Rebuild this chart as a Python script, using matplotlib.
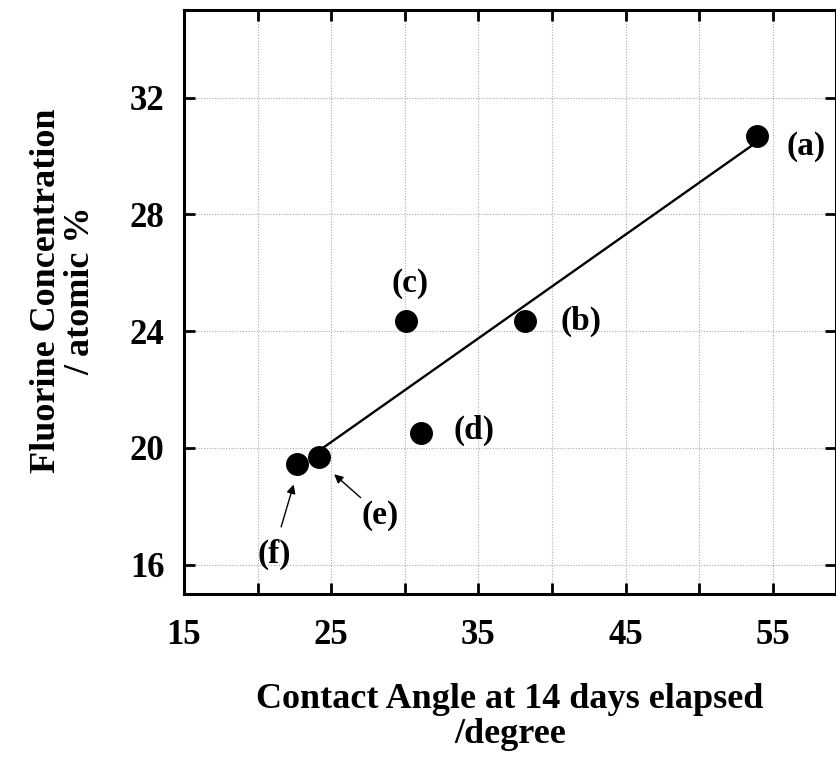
import numpy as np
import matplotlib
matplotlib.use("Agg")
import matplotlib.pyplot as plt

plt.rcParams["font.family"] = ["Liberation Serif", "DejaVu Serif"]
plt.rcParams["font.weight"] = "bold"

# samples (a)-(f): contact angle after 14 days vs. surface fluorine
sample_names = ["(a)", "(b)", "(c)", "(d)", "(e)", "(f)"]
contact_angle = [53.9, 38.2, 30.1, 31.1, 24.2, 22.7]
fluorine_conc = [30.7, 24.35, 24.35, 20.5, 19.7, 19.45]

x_ticks = [15, 20, 25, 30, 35, 40, 45, 50, 55]
x_tick_labels = ["15", "", "25", "", "35", "", "45", "", "55"]
y_ticks = [16, 20, 24, 28, 32]

fig = plt.figure(figsize=(8.37, 7.71), dpi=100)
ax = fig.add_axes([184 / 837, 1 - 594 / 771, 652 / 837, 584 / 771])

# least squares line, drawn between (e) and (a)
slope, icpt = np.polyfit(contact_angle, fluorine_conc, 1)
x_fit = np.array([24.4, 53.5])
ax.plot(x_fit, slope * x_fit + icpt, color="black", lw=1.7, zorder=3)

ax.plot(contact_angle, fluorine_conc, "o", color="black", ms=15.5, zorder=4)

# label offsets in points from each marker
offsets = {
    "(a)": (36, -8),
    "(b)": (40, 0),
    "(c)": (3, 27),
    "(d)": (38, 2),
}
for name, x, y in zip(sample_names, contact_angle, fluorine_conc):
    if name in offsets:
        ax.annotate(name, (x, y), xytext=offsets[name], textcoords="offset points",
                    ha="center", va="center", fontsize=24, fontweight="bold")

# the two crowded points get arrows
ax.text(28.3, 17.7, "(e)", ha="center", va="center", fontsize=24, fontweight="bold")
ax.text(21.1, 16.35, "(f)", ha="center", va="center", fontsize=24, fontweight="bold")
arrow = dict(arrowstyle="-|>", color="black", lw=1.0, mutation_scale=13,
             shrinkA=0, shrinkB=0)
ax.annotate("", xy=(25.2, 19.1), xytext=(27.0, 18.3), arrowprops=arrow)
ax.annotate("", xy=(22.45, 18.75), xytext=(21.6, 17.3), arrowprops=arrow)

ax.set_xlim(15, 59.3)
ax.set_ylim(15, 35)
ax.set_xticks(x_ticks)
ax.set_xticklabels(x_tick_labels)
ax.set_yticks(y_ticks)

ax.grid(True, color="#aaaaaa", ls=(0, (1, 1.5)), lw=0.8)
ax.tick_params(direction="in", length=8, width=2, top=True, right=True,
               labelsize=25, pad=14)
ax.tick_params(axis="x", pad=18)
for lbl in ax.get_xticklabels() + ax.get_yticklabels():
    lbl.set_fontweight("bold")
for sp in ax.spines.values():
    sp.set_linewidth(2.2)

ax.set_xlabel("Contact Angle at 14 days elapsed\n/degree", fontsize=26,
              fontweight="bold", labelpad=22, linespacing=1.1)
ax.set_ylabel("Fluorine Concentration\n/ atomic %", fontsize=26,
              fontweight="bold", linespacing=1.05)
ax.yaxis.set_label_coords(-0.133, 0.52)

fig.savefig("out.png", dpi=100)
